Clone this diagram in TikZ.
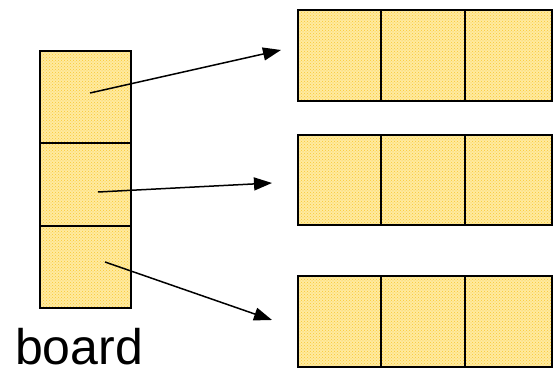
\documentclass[tikz,border=0pt]{standalone}
\usepackage{fontspec}
\setmainfont{Liberation Sans}
\usetikzlibrary{arrows.meta,patterns}
\definecolor{cellbg}{RGB}{255,234,160}
\definecolor{cellpat}{RGB}{248,200,50}
\tikzset{
  cell/.style={draw=black, line width=1.6pt, pattern color=cellpat, pattern=crosshatch dots, inner sep=0pt, outer sep=0pt},
  link/.style={line width=1.5pt, -{Triangle[length=18pt,width=13pt]}}
}
\begin{document}
\begin{tikzpicture}[x=1pt,y=-1pt]
\useasboundingbox (0,0) rectangle (558,371);
% left column
\foreach \n/\a/\b in {l1/51/143, l2/143/226, l3/226/308}{
  \fill[cellbg] (40,\a) rectangle (131,\b);
  \draw[cell] (40,\a) rectangle (131,\b);
}
% right rows
\foreach \r/\a/\b in {1/10/101, 2/135/225, 3/276/367}{
  \foreach \c/\xa/\xb in {1/298/381, 2/381/465, 3/465/552}{
    \fill[cellbg] (\xa,\a) rectangle (\xb,\b);
    \draw[cell] (\xa,\a) rectangle (\xb,\b);
  }
}
\coordinate (s1) at (90,93);
\coordinate (s2) at (98,192);
\coordinate (s3) at (105,262);
\coordinate (t1) at (281,50);
\coordinate (t2) at (272,183);
\coordinate (t3) at (272,320);
\draw[link] (s1) -- (t1);
\draw[link] (s2) -- (t2);
\draw[link] (s3) -- (t3);
\node[anchor=base west, inner sep=0pt, font=\fontsize{50}{50}\selectfont] (lbl) at (15,365) {board};
\end{tikzpicture}
\end{document}
